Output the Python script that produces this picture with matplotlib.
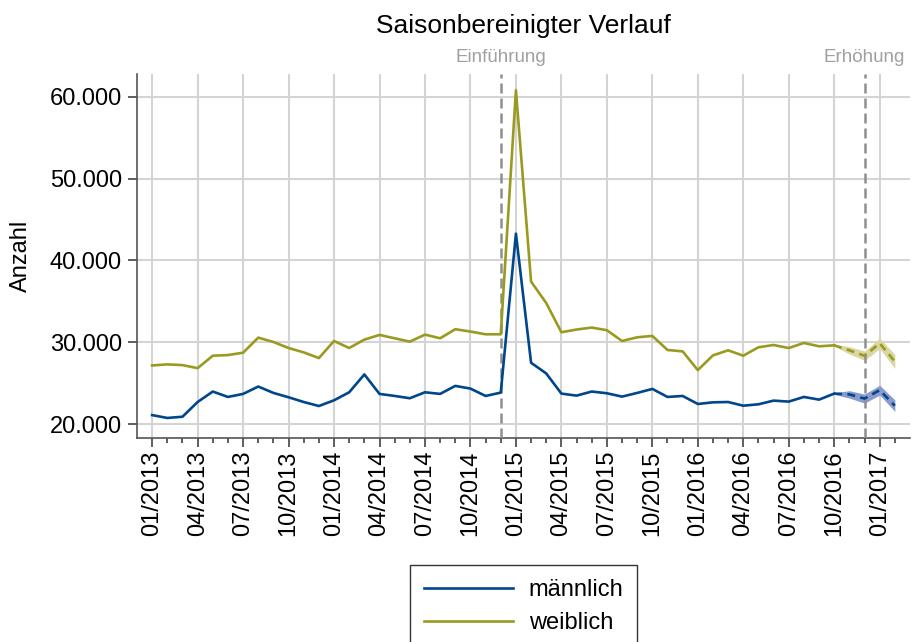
import numpy as np
import pandas as pd
import matplotlib
matplotlib.use('Agg')
import matplotlib.pyplot as plt
from matplotlib.lines import Line2D

plt.rcParams['font.family'] = ['Liberation Sans', 'DejaVu Sans']

# monthly axis, 01/2013 .. 02/2017
months = pd.date_range('2013-01-01', periods=50, freq='MS')
month_labels = [d.strftime('%m/%Y') for d in months]

# observed seasonally adjusted counts (01/2013 .. 10/2016)
maennlich = [21100, 20750, 20900, 22700, 23980, 23320, 23690, 24590, 23810, 23280,
             22700, 22210, 22910, 23890, 26070, 23690, 23440, 23160, 23890, 23690,
             24670, 24340, 23440, 23850, 43280, 27500, 26190, 23730, 23480, 23980,
             23770, 23360, 23810, 24300, 23320, 23440, 22460, 22660, 22700, 22250,
             22420, 22870, 22750, 23320, 22990, 23730]
weiblich = [27170, 27300, 27210, 26840, 28360, 28440, 28730, 30570, 30040, 29300,
            28770, 28070, 30160, 29300, 30330, 30900, 30490, 30080, 30940, 30490,
            31600, 31310, 30980, 30980, 60800, 37420, 34800, 31230, 31560, 31800,
            31480, 30160, 30610, 30780, 29060, 28890, 26600, 28400, 29020, 28360,
            29390, 29670, 29300, 29920, 29510, 29630]

# forecast 10/2016 .. 02/2017 with interval
fc_start = 45
maennlich_fc = [23730, 23630, 23120, 24150, 22250]
maennlich_fc_err = [100, 450, 550, 600, 700]
weiblich_fc = [29630, 29020, 28350, 29880, 27650]
weiblich_fc_err = [100, 450, 570, 650, 850]

# events
event_pos = [23, 47]
event_labels = ['Einführung', 'Erhöhung']

blue = '#00468b'
olive = '#999a1f'

fig = plt.figure(figsize=(9.13, 6.42), dpi=100)
ax = fig.add_axes([137 / 913, 1 - 438 / 642, 773 / 913, 364 / 642])

x_obs = np.arange(len(maennlich))
x_fc = np.arange(fc_start, fc_start + len(maennlich_fc))

ax.fill_between(x_fc, np.array(weiblich_fc) - weiblich_fc_err,
                np.array(weiblich_fc) + weiblich_fc_err,
                color='#d9d7a3', lw=0, zorder=2)
ax.fill_between(x_fc, np.array(maennlich_fc) - maennlich_fc_err,
                np.array(maennlich_fc) + maennlich_fc_err,
                color='#8a9acb', lw=0, zorder=2)

ax.plot(x_obs, maennlich, color=blue, lw=1.9, zorder=4)
ax.plot(x_obs, weiblich, color=olive, lw=1.9, zorder=4)
ax.plot(x_fc, maennlich_fc, color=blue, lw=1.9, ls=(0, (3, 2)), zorder=4)
ax.plot(x_fc, weiblich_fc, color=olive, lw=1.9, ls=(0, (3, 2)), zorder=4)

for pos, lab in zip(event_pos, event_labels):
    ax.axvline(pos, color='#8f8f8f', lw=1.8, ls=(0, (4, 2)), zorder=3)
    ax.annotate(lab, xy=(pos, 1), xycoords=('data', 'axes fraction'),
                xytext=(0, 8.6), textcoords='offset points',
                ha='center', va='baseline', fontsize=13.5, color='#a0a0a0',
                annotation_clip=False)

ax.set_xlim(-1, 50)
ax.set_ylim(18300, 62800)

ax.set_yticks([20000, 30000, 40000, 50000, 60000])
ax.set_yticklabels(['20.000', '30.000', '40.000', '50.000', '60.000'])
ax.set_xticks(np.arange(0, 50, 3))
ax.set_xticklabels(month_labels[::3], rotation=90)
ax.set_xticks(np.arange(0, 50), minor=True)

ax.grid(True, which='major', color='#d4d4d4', lw=1.5, zorder=0)
ax.set_axisbelow(True)

for side in ['top', 'right']:
    ax.spines[side].set_visible(False)
for side in ['left', 'bottom']:
    ax.spines[side].set_color('#555555')
    ax.spines[side].set_linewidth(1.2)

ax.tick_params(axis='both', which='major', direction='out', length=6.5, width=1.1,
               color='#333333', labelsize=17)
ax.tick_params(axis='y', pad=4.3)
ax.tick_params(axis='x', pad=2.5)
ax.tick_params(axis='x', which='minor', direction='out', length=3.6, width=1.1,
               color='#333333')

ax.set_ylabel('Anzahl', fontsize=17)
ax.yaxis.set_label_coords(-0.136, 0.5)

fig.text(523.5 / 913, 1 - 33 / 642, 'Saisonbereinigter Verlauf', ha='center',
         va='baseline', fontsize=19)

handles = [Line2D([], [], color=blue, lw=1.9), Line2D([], [], color=olive, lw=1.9)]
leg = fig.legend(handles, ['männlich', 'weiblich'], loc='upper center',
                 bbox_to_anchor=(523.5 / 913, 1 - 565 / 642), fontsize=17,
                 frameon=True, fancybox=False, handlelength=3.8, handletextpad=0.64,
                 labelspacing=0.45, borderpad=0.6, borderaxespad=0)
leg.get_frame().set_edgecolor('black')
leg.get_frame().set_linewidth(1.0)

fig.savefig('out.png', dpi=100)
